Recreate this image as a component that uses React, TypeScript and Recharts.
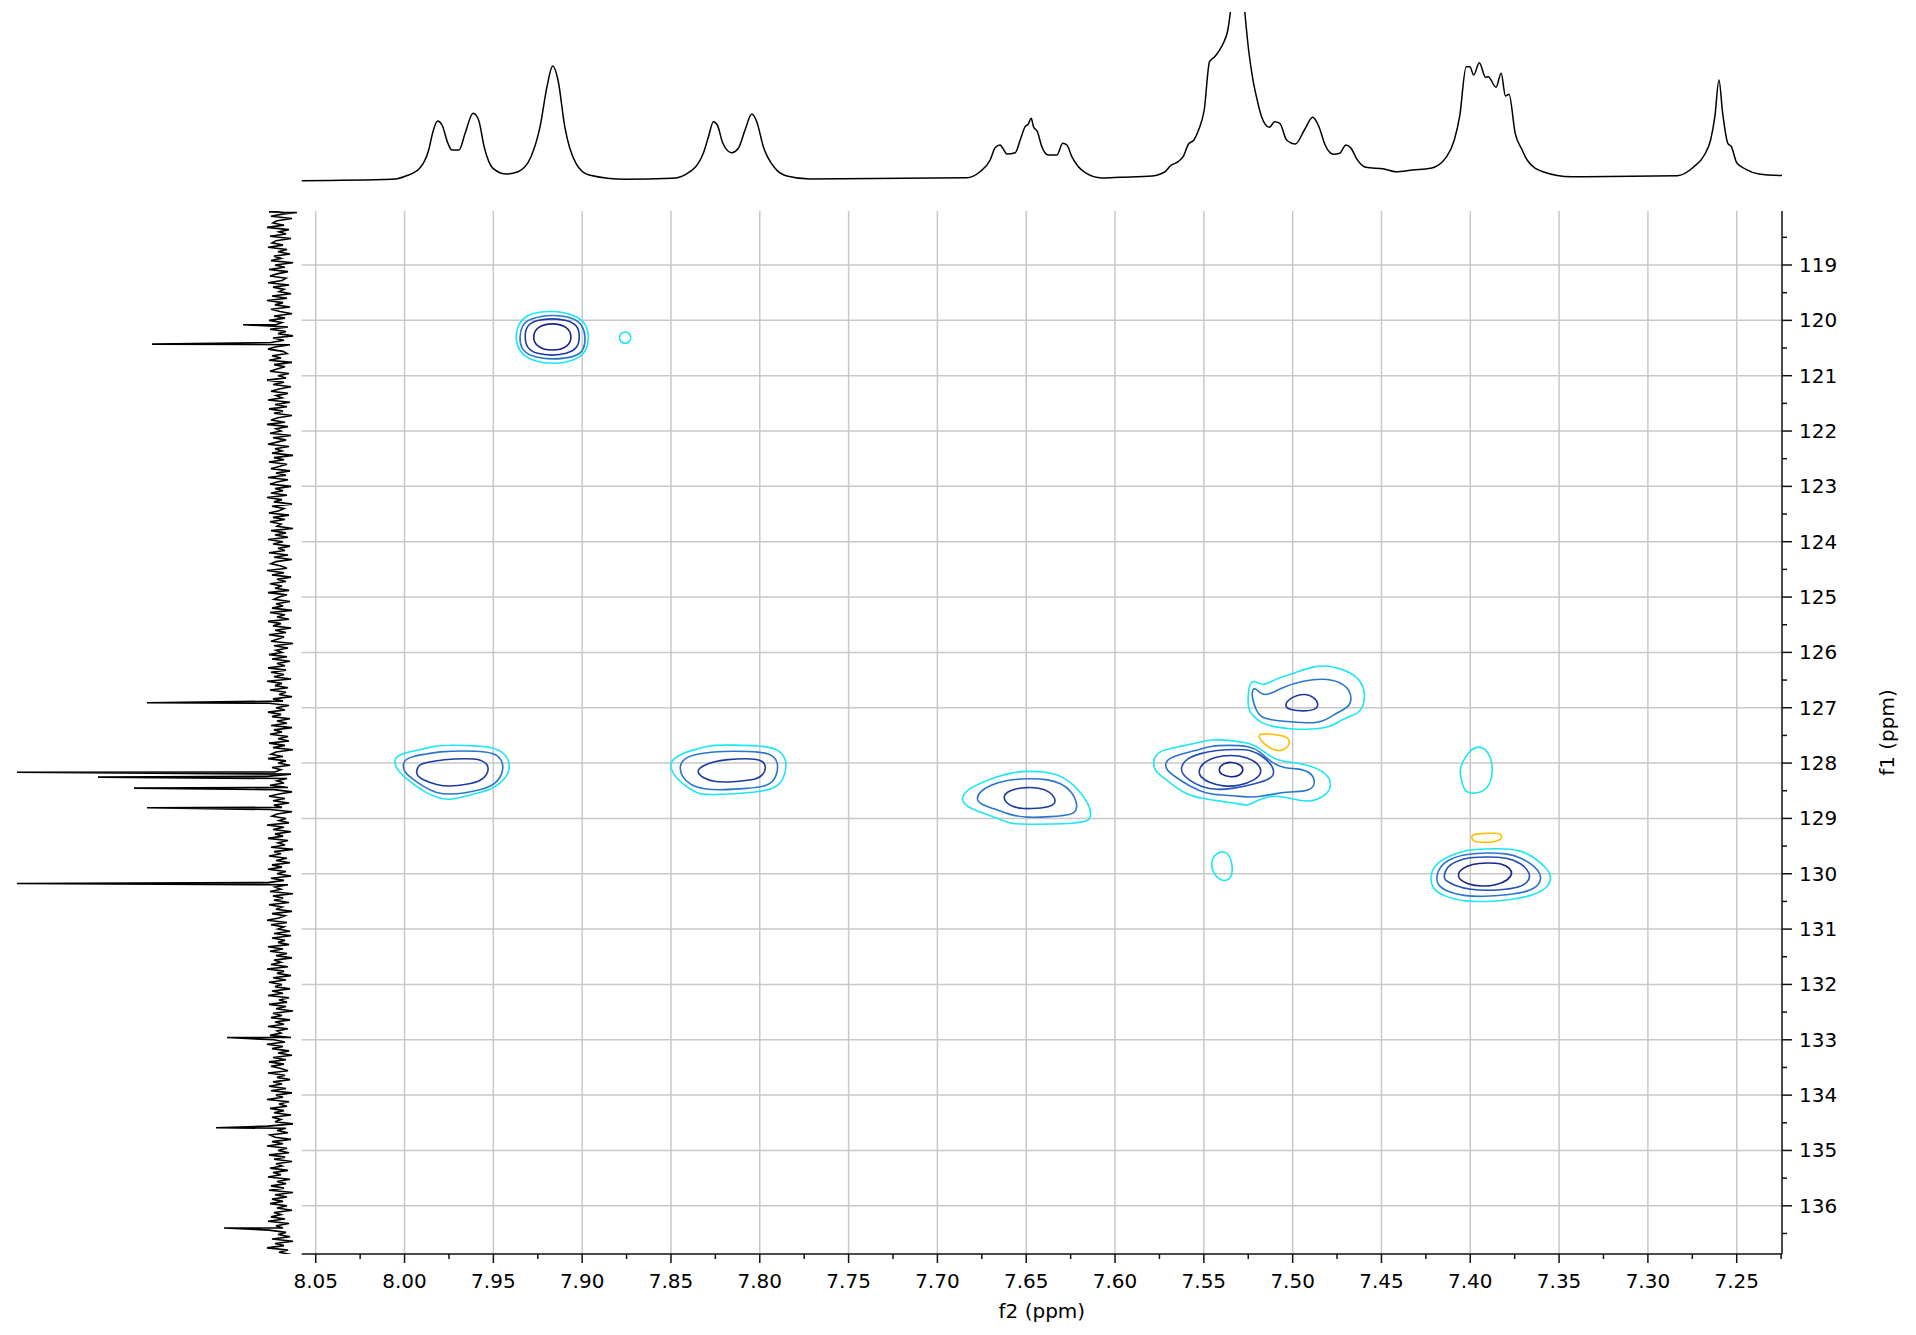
import React from 'react';
import { ComposedChart, LineChart, Line, XAxis, YAxis, CartesianGrid } from 'recharts';

// axis ranges (ppm)
const F2_DOMAIN: [number, number] = [7.2245, 8.0579];
const F1_DOMAIN: [number, number] = [118.024, 136.871];

const F2_MAJOR = [8.05, 8.0, 7.95, 7.9, 7.85, 7.8, 7.75, 7.7, 7.65, 7.6, 7.55, 7.5, 7.45, 7.4, 7.35, 7.3, 7.25];
const F2_MINOR = [8.025, 7.975, 7.925, 7.875, 7.825, 7.775, 7.725, 7.675, 7.625, 7.575, 7.525, 7.475, 7.425, 7.375, 7.325, 7.275, 7.225];
const F1_MAJOR = [119, 120, 121, 122, 123, 124, 125, 126, 127, 128, 129, 130, 131, 132, 133, 134, 135, 136];
const F1_MINOR = [118.5, 119.5, 120.5, 121.5, 122.5, 123.5, 124.5, 125.5, 126.5, 127.5, 128.5, 129.5, 130.5, 131.5, 132.5, 133.5, 134.5, 135.5, 136.5];

// 1H projection on top: [ppm, intensity]
const H1_TRACE = [
  [8.0583, 0.3], [8.007, 1.7], [7.9992, 5], [7.9915, 12.7], [7.9864, 31], [7.984, 49.3], [7.9814, 60], [7.9789, 56],
  [7.9756, 37.7], [7.9733, 31], [7.9693, 31], [7.9659, 47.7], [7.9614, 67.7], [7.9583, 61], [7.9552, 34.3], [7.9502, 12.7],
  [7.9425, 7], [7.9361, 9.3], [7.9288, 24.3], [7.9237, 54.3], [7.9198, 94.3], [7.9166, 115], [7.9136, 101], [7.9098, 54.3],
  [7.9035, 17.7], [7.8961, 6], [7.8758, 1.7], [7.8494, 2.7], [7.8407, 7.7], [7.8318, 27.7], [7.8289, 44.3], [7.8261, 59.3],
  [7.8239, 56], [7.8208, 37.7], [7.8158, 28.3], [7.8121, 32.7], [7.8083, 51], [7.8045, 67], [7.8017, 59.3], [7.798, 34.3],
  [7.7914, 12.7], [7.7848, 5], [7.7717, 2], [7.6835, 3.3], [7.676, 9.3], [7.6703, 21], [7.6675, 33.3], [7.6647, 36],
  [7.6632, 32.7], [7.6609, 27], [7.6562, 28.3], [7.6534, 41], [7.6506, 54.3], [7.6488, 57], [7.6472, 62.7], [7.6459, 54.3],
  [7.6437, 49.3], [7.6412, 34.3], [7.6375, 26], [7.6328, 26], [7.6294, 37.7], [7.6271, 36], [7.6243, 24.3], [7.6168, 8.3],
  [7.6074, 3], [7.5971, 3.7], [7.5791, 5], [7.5718, 9.3], [7.5688, 15.3], [7.5645, 19.3], [7.5617, 24.3], [7.5586, 37],
  [7.5556, 41], [7.5526, 52.7], [7.5498, 71], [7.5468, 119.3], [7.5439, 124.3], [7.5409, 131.7], [7.5389, 138.3], [7.5365, 151],
  [7.5351, 168.3], [7.5313, 260], [7.5269, 168.3], [7.5248, 131], [7.5225, 102.7], [7.5204, 84.3], [7.5175, 64.3], [7.5131, 53.7],
  [7.5101, 59.3], [7.5072, 57.7], [7.5034, 41], [7.4984, 37], [7.4934, 51], [7.4887, 63.7], [7.4852, 54.3], [7.4817, 36],
  [7.477, 26.7], [7.4735, 27.7], [7.47, 36], [7.4671, 32.7], [7.4641, 22.7], [7.4588, 13.7], [7.4485, 12], [7.4418, 9.3],
  [7.4324, 11], [7.4222, 12.7], [7.4133, 24.3], [7.409, 41], [7.406, 64.3], [7.4023, 114.3], [7.4002, 114.3], [7.3981, 106],
  [7.3949, 118.3], [7.3914, 103.7], [7.3899, 104.3], [7.3855, 93.7], [7.3826, 107.7], [7.3802, 85], [7.3782, 86.7], [7.3747, 47.7],
  [7.3708, 31], [7.368, 21], [7.3591, 9.3], [7.343, 4.3], [7.2835, 5.3], [7.2741, 14.3], [7.2682, 26], [7.2647, 41],
  [7.2623, 64.3], [7.26, 101], [7.2579, 67.7], [7.255, 37.7], [7.253, 34.3], [7.25, 18.3], [7.2448, 11.7], [7.2374, 7],
  [7.2233, 5.3],
];

// 13C projection on the left: noise read every 0.04 ppm from 117.96, plus the sharp lines
const C13_NOISE_START = 117.96;
const C13_NOISE_STEP = 0.04;
const C13_NOISE = [
  5, -8, 11, -2, 9, -12, 3, 7, -4, 13, -9, 1, -6, 10, -11, 4, 8, -3, 12, -7, 2, -10, 6, -1, 9, -13, 5, -5, 11, -8,
  3, 10, -6, -2, 12, -9, 7, -4, 1, -11, 8, -7, 13, -3, 5, -10, 9, 0, -12, 6, -5, 11, -2, 4, -8, 10, -6, 2, -13, 7,
  -4, 9, -10, 5, 12, -3, -7, 8, -1, 11, -12, 6, -5, 3, 10, -9, 2, -6, 13, -4, 7, -11, 1, 9, -8, 4, -2, 12, -10, 5,
  -7, 11, -3, 6, -12, 2, 9, -5, 13, -8, 4, -1, 10, -11, 7, -6, 3, 12, -9, 5, -2, 8, -13, 6, -4, 11, -7, 1, 9, -10,
  4, -6, 12, -8, 3, 10, -11, 5, -3, 9, -7, 13, -2, 6, -12, 8, -4, 1, 11, -9, 7, -5, 10, -1, 3, -13, 9, -6, 5, -8,
  12, -3, 7, -10, 2, -5, 11, -8, 6, -12, 4, 9, -1, -7, 13, -4, 8, -11, 3, -6, 10, -2, 5, -9, 12, -7, 1, 6, -10, 4,
  -3, 8, -12, 10, -5, 3, -9, 12, -1, 7, -11, 5, -6, 11, -4, 2, 9, -13, 6, -8, 4, -2, 11, -7, 8, -10, 3, -5, 12, -6,
  9, -4, 6, -11, 13, -2, 5, -8, 10, -6, 1, -12, 7, -3, 11, -9, 4, -5, 12, -1, 8, -10, 3, -7, 9, -12, 6, -2, 10, -8,
  2, -9, 11, -5, 7, -13, 4, 9, -3, 12, -6, 2, -10, 8, -1, 5, -11, 13, -7, 3, -4, 10, -8, 6, -12, 1, 11, -5, 7, -9,
  6, -2, 10, -12, 3, 8, -6, 1, -9, 13, -4, 7, -11, 5, -3, 12, -8, 2, -5, 9, -13, 6, -1, 11, -7, 4, -10, 8, -2, 12,
  -6, 3, -11, 9, -4, 12, -8, 5, -1, 10, -13, 7, -3, 6, -9, 11, -2, 4, -12, 8, -5, 1, 13, -7, 9, -4, 2, -10, 6, -11,
  8, -5, 2, -9, 12, -3, 10, -7, 4, -12, 6, -1, 9, -8, 13, -4, 3, -11, 7, -6, 11, -2, 5, -10, 8, -3, 12, -9, 1, -7,
  11, -6, 4, -13, 7, -2, 9, -10, 5, -4, 12, -8, 3, -1, 10, -11, 6, -5, 13, -3, 8, -9, 2, -12, 7, -6, 11, -4, 9, -1,
  -8, 12, -5, 3, -10, 7, -2, 11, -6, 9, -12, 4, -3, 13, -9, 1, -7, 10, -4, 6, -11, 8, -1, 5, -13, 12, -6, 3, -8, 10,
  5, -11, 8, -3, 13, -7, 2, -9, 11, -5, 6, -12, 4, -2, 10, -8, 7, -1, 12, -10, 3, -6, 9, -4, 11, -13, 5, -7, 8, -3,
  10, -7, 3, -12, 6, -1, 9, -5, 12, -9, 4, -3, 11, -6, 2, -10, 8, -13, 5, -4, 13, -8, 1, -11, 7, -2, 10, -6, 4, -9,
];
const C13_LINES = [
  [118.05, -17], [120.08, 37], [120.43, 128], [126.91, 133], [128.165, 263], [128.254, 182], [128.452, 146],
  [128.807, 133], [130.176, 263], [132.96, 53], [134.59, 64], [136.4, 56],
];

// contour colours
const CYAN = '#1ee6f2';
const BLUE = '#2b76cb';
const MID = '#2352b3';
const DARK = '#1d3b9f';
const NAVY = '#17248b';
const NEG = '#ffbf00';

// cross peaks, [f2, f1] outline points
const P1_A = [[7.8961, 120.295], [7.8974, 120.548], [7.9017, 120.675], [7.9087, 120.765], [7.9168, 120.783], [7.9256, 120.753], [7.9335, 120.638], [7.937, 120.446], [7.9374, 120.235], [7.9357, 120.042], [7.9303, 119.885], [7.9218, 119.837], [7.9115, 119.837], [7.9021, 119.934], [7.8974, 120.084]];
const P1_B = [[7.898, 120.295], [7.8989, 120.536], [7.9031, 120.656], [7.9168, 120.717], [7.9293, 120.656], [7.9346, 120.506], [7.9353, 120.295], [7.934, 120.084], [7.9293, 119.964], [7.9168, 119.891], [7.9049, 119.952], [7.8997, 120.084]];
const P1_C = [[7.9012, 120.295], [7.9025, 120.506], [7.9087, 120.608], [7.9168, 120.638], [7.9256, 120.608], [7.9312, 120.506], [7.9325, 120.295], [7.9312, 120.084], [7.9256, 119.994], [7.9168, 119.964], [7.9087, 119.994], [7.9025, 120.084]];
const P1_D = [[7.9055, 120.3], [7.908, 120.49], [7.9168, 120.56], [7.9256, 120.49], [7.9281, 120.3], [7.9256, 120.11], [7.9168, 120.04], [7.908, 120.11]];
const P1_SMALL = [[7.8723, 120.313], [7.8733, 120.393], [7.8758, 120.426], [7.8783, 120.393], [7.8793, 120.313], [7.8783, 120.233], [7.8758, 120.2], [7.8733, 120.233]];

const P2_A = [[8.0063, 127.975], [8.0044, 127.872], [7.9997, 127.812], [7.9931, 127.776], [7.9838, 127.692], [7.9744, 127.674], [7.9594, 127.686], [7.95, 127.716], [7.9434, 127.824], [7.9406, 128.005], [7.9415, 128.216], [7.9462, 128.366], [7.9519, 128.487], [7.9594, 128.547], [7.9669, 128.607], [7.9744, 128.668], [7.9809, 128.637], [7.9894, 128.517], [7.9969, 128.336], [8.0035, 128.156]];
const P2_B = [[8.001, 128.035], [7.9997, 127.933], [7.995, 127.872], [7.9875, 127.836], [7.9809, 127.794], [7.9669, 127.776], [7.9537, 127.794], [7.9472, 127.854], [7.9444, 128.005], [7.9447, 128.186], [7.949, 128.396], [7.9575, 128.487], [7.9669, 128.547], [7.9744, 128.565], [7.9819, 128.547], [7.9894, 128.427], [7.996, 128.276], [8.0003, 128.156]];
const P2_C = [[7.9935, 128.156], [7.9922, 128.035], [7.9885, 127.993], [7.9781, 127.933], [7.965, 127.915], [7.9566, 127.933], [7.9528, 128.035], [7.9528, 128.186], [7.9575, 128.336], [7.965, 128.384], [7.9744, 128.427], [7.9819, 128.396], [7.9894, 128.306], [7.9928, 128.234]];

const P3_A = [[7.8509, 128.035], [7.8486, 127.915], [7.843, 127.812], [7.8336, 127.734], [7.828, 127.674], [7.8148, 127.674], [7.7998, 127.686], [7.7904, 127.734], [7.7858, 127.884], [7.7848, 128.065], [7.7867, 128.306], [7.7914, 128.457], [7.7998, 128.517], [7.8148, 128.559], [7.8299, 128.577], [7.8355, 128.547], [7.843, 128.396], [7.8486, 128.216]];
const P3_B = [[7.8454, 128.065], [7.843, 127.915], [7.8355, 127.836], [7.8261, 127.794], [7.8148, 127.782], [7.7998, 127.794], [7.7923, 127.854], [7.7895, 128.005], [7.7904, 128.246], [7.7951, 128.427], [7.8073, 128.457], [7.8205, 128.487], [7.8317, 128.475], [7.8392, 128.396], [7.8439, 128.246]];
const P3_C = [[7.8359, 128.156], [7.8327, 128.053], [7.8261, 127.975], [7.8186, 127.933], [7.8073, 127.915], [7.7989, 127.933], [7.7961, 128.065], [7.798, 128.216], [7.8017, 128.294], [7.8111, 128.324], [7.8186, 128.348], [7.8261, 128.336], [7.8317, 128.276]];

const P4_A = [[7.6863, 128.625], [7.6835, 128.487], [7.676, 128.366], [7.6666, 128.246], [7.6572, 128.168], [7.6497, 128.144], [7.6403, 128.156], [7.6319, 128.204], [7.6253, 128.336], [7.6196, 128.517], [7.615, 128.728], [7.6131, 128.939], [7.615, 129.059], [7.6234, 129.089], [7.6365, 129.101], [7.6497, 129.107], [7.6581, 129.101], [7.6638, 129.029], [7.6741, 128.909], [7.6835, 128.788], [7.6857, 128.698]];
const P4_B = [[7.6782, 128.637], [7.676, 128.517], [7.6703, 128.397], [7.6609, 128.306], [7.6497, 128.276], [7.6384, 128.288], [7.63, 128.366], [7.6243, 128.517], [7.6215, 128.698], [7.6215, 128.848], [7.6243, 128.939], [7.6365, 128.969], [7.6497, 128.987], [7.6591, 128.939], [7.6685, 128.818], [7.676, 128.746]];
const P4_C = [[7.6628, 128.607], [7.6609, 128.517], [7.6553, 128.457], [7.6497, 128.439], [7.6431, 128.445], [7.6365, 128.517], [7.6337, 128.637], [7.6337, 128.728], [7.6365, 128.788], [7.6441, 128.818], [7.6516, 128.83], [7.6581, 128.788], [7.6619, 128.698]];

const P5U_A = [[7.5254, 127.041], [7.5249, 126.68], [7.5239, 126.547], [7.5217, 126.511], [7.5183, 126.571], [7.5155, 126.589], [7.5089, 126.469], [7.4995, 126.379], [7.4883, 126.246], [7.4789, 126.234], [7.4676, 126.349], [7.4611, 126.529], [7.4592, 126.74], [7.4601, 126.981], [7.4629, 127.101], [7.4695, 127.174], [7.4742, 127.252], [7.4789, 127.354], [7.4902, 127.391], [7.4995, 127.391], [7.5099, 127.354], [7.5183, 127.27], [7.5221, 127.15]];
const P5U_B = [[7.523, 126.68], [7.5211, 126.638], [7.5183, 126.74], [7.5145, 126.788], [7.5052, 126.62], [7.4939, 126.511], [7.4826, 126.469], [7.4733, 126.529], [7.4676, 126.68], [7.4667, 126.891], [7.4695, 127.011], [7.4751, 127.089], [7.4826, 127.252], [7.4902, 127.282], [7.5014, 127.252], [7.5127, 127.222], [7.5183, 127.162], [7.5206, 127.041], [7.5226, 126.861]];
const P5U_C = [[7.5046, 126.97], [7.5026, 126.853], [7.4977, 126.778], [7.493, 126.745], [7.4879, 126.805], [7.4852, 126.935], [7.4869, 127.038], [7.4939, 127.065], [7.5018, 127.038]];

const P5L_A = [[7.5787, 128.005], [7.5774, 127.854], [7.5727, 127.752], [7.5615, 127.692], [7.5511, 127.613], [7.5455, 127.571], [7.5333, 127.595], [7.523, 127.644], [7.5174, 127.764], [7.5099, 127.945], [7.5014, 127.987], [7.4902, 128.035], [7.4808, 128.186], [7.478, 128.366], [7.4798, 128.547], [7.4864, 128.668], [7.492, 128.698], [7.4995, 128.656], [7.5089, 128.577], [7.5183, 128.637], [7.5254, 128.788], [7.5305, 128.728], [7.539, 128.698], [7.5521, 128.637], [7.5615, 128.547], [7.5709, 128.306], [7.5774, 128.156]];
const P5L_B = [[7.5718, 128.005], [7.5699, 127.915], [7.5615, 127.824], [7.5521, 127.752], [7.5465, 127.692], [7.5371, 127.674], [7.5239, 127.692], [7.5183, 127.794], [7.5127, 127.975], [7.5052, 128.095], [7.4977, 128.095], [7.4902, 128.156], [7.4873, 128.306], [7.4883, 128.457], [7.4939, 128.517], [7.5014, 128.517], [7.5089, 128.547], [7.5183, 128.607], [7.5249, 128.619], [7.5324, 128.595], [7.539, 128.577], [7.5483, 128.559], [7.5577, 128.427], [7.5662, 128.246], [7.5712, 128.125]];
const P5L_C = [[7.563, 128.065], [7.5596, 127.915], [7.5521, 127.824], [7.5427, 127.764], [7.5314, 127.752], [7.523, 127.764], [7.5164, 127.885], [7.5108, 128.065], [7.5104, 128.216], [7.5136, 128.306], [7.5239, 128.397], [7.5333, 128.457], [7.5427, 128.487], [7.5512, 128.439], [7.5587, 128.306], [7.5624, 128.186]];
const P5L_D = [[7.553, 128.156], [7.5512, 128.005], [7.5436, 127.885], [7.5352, 127.854], [7.5258, 127.885], [7.5183, 128.035], [7.5174, 128.186], [7.5211, 128.306], [7.5296, 128.409], [7.539, 128.427], [7.5474, 128.354], [7.5521, 128.246]];
const P5L_E = [[7.5419, 128.118], [7.5395, 128.007], [7.5343, 127.974], [7.5291, 128.029], [7.5275, 128.118], [7.5294, 128.228], [7.5352, 128.26], [7.5405, 128.207]];

const P6_A = [[7.4226, 130.053], [7.4207, 129.872], [7.4151, 129.722], [7.4057, 129.601], [7.3982, 129.559], [7.3832, 129.541], [7.3719, 129.571], [7.3644, 129.692], [7.3569, 129.902], [7.3541, 130.053], [7.3559, 130.234], [7.3635, 130.384], [7.3775, 130.475], [7.3907, 130.505], [7.4019, 130.505], [7.4151, 130.414], [7.4216, 130.264]];
const P6_B = [[7.4192, 130.053], [7.4173, 129.872], [7.4113, 129.722], [7.4019, 129.643], [7.3907, 129.619], [7.3794, 129.631], [7.3719, 129.704], [7.3644, 129.842], [7.3597, 130.023], [7.361, 130.204], [7.3672, 130.324], [7.3794, 130.384], [7.3925, 130.414], [7.4038, 130.402], [7.4132, 130.324], [7.4185, 130.204]];
const P6_C = [[7.4151, 130.053], [7.4132, 129.872], [7.4076, 129.764], [7.4001, 129.704], [7.3907, 129.692], [7.3794, 129.704], [7.371, 129.812], [7.3659, 129.993], [7.3672, 130.161], [7.3738, 130.264], [7.3869, 130.306], [7.4001, 130.294], [7.4094, 130.204], [7.4141, 130.125]];
const P6_D = [[7.4072, 130.005], [7.4047, 129.902], [7.3991, 129.824], [7.3907, 129.8], [7.3822, 129.812], [7.3775, 129.902], [7.3762, 129.993], [7.3785, 130.113], [7.385, 130.204], [7.3935, 130.234], [7.4019, 130.185], [7.4062, 130.101]];

const CYAN_740 = [[7.3963, 127.692], [7.3916, 127.734], [7.3884, 127.885], [7.3873, 128.125], [7.3884, 128.366], [7.3926, 128.517], [7.3972, 128.547], [7.4023, 128.547], [7.4048, 128.366], [7.4061, 128.125], [7.4048, 128.005], [7.401, 127.794]];
const CYAN_754 = [[7.5399, 129.583], [7.5361, 129.631], [7.5343, 129.782], [7.5337, 129.963], [7.5352, 130.101], [7.538, 130.131], [7.5418, 130.101], [7.545, 129.963], [7.5461, 129.812], [7.5442, 129.661]];
const NEG_751 = [[7.5192, 127.463], [7.5117, 127.475], [7.5042, 127.511], [7.5014, 127.583], [7.5024, 127.704], [7.5052, 127.764], [7.5089, 127.782], [7.5127, 127.734], [7.5164, 127.644], [7.5189, 127.553]];
const NEG_739 = [[7.3998, 129.295], [7.3944, 129.272], [7.385, 129.262], [7.3818, 129.295], [7.3829, 129.395], [7.3869, 129.43], [7.3944, 129.436], [7.3988, 129.413]];

const CONTOURS: { pts: number[][]; color: string }[] = [
  { pts: P1_A, color: CYAN }, { pts: P1_B, color: BLUE }, { pts: P1_C, color: DARK }, { pts: P1_D, color: NAVY },
  { pts: P1_SMALL, color: CYAN },
  { pts: P2_A, color: CYAN }, { pts: P2_B, color: BLUE }, { pts: P2_C, color: DARK },
  { pts: P3_A, color: CYAN }, { pts: P3_B, color: BLUE }, { pts: P3_C, color: DARK },
  { pts: P4_A, color: CYAN }, { pts: P4_B, color: BLUE }, { pts: P4_C, color: DARK },
  { pts: P5U_A, color: CYAN }, { pts: P5U_B, color: BLUE }, { pts: P5U_C, color: DARK },
  { pts: P5L_A, color: CYAN }, { pts: P5L_B, color: BLUE }, { pts: P5L_C, color: MID }, { pts: P5L_D, color: DARK }, { pts: P5L_E, color: NAVY },
  { pts: P6_A, color: CYAN }, { pts: P6_B, color: BLUE }, { pts: P6_C, color: MID }, { pts: P6_D, color: NAVY },
  { pts: CYAN_740, color: CYAN }, { pts: CYAN_754, color: CYAN },
  { pts: NEG_751, color: NEG }, { pts: NEG_739, color: NEG },
];

const FONT = '"DejaVu Sans", Verdana, sans-serif';
const AXIS_COLOR = '#111';

const isMajor = (list: number[], v: number) => list.some((m) => Math.abs(m - v) < 1e-6);

const F2Tick = (props: any) => {
  const { x, y, payload } = props;
  const major = isMajor(F2_MAJOR, payload.value);
  return (
    <g>
      <line x1={x} y1={y} x2={x} y2={y + (major ? 9 : 5)} stroke={AXIS_COLOR} strokeWidth={1.5} />
      {major && (
        <text x={x} y={y + 34} textAnchor="middle" fontFamily={FONT} fontSize={20} fill="#000">
          {payload.value.toFixed(2)}
        </text>
      )}
    </g>
  );
};

const F1Tick = (props: any) => {
  const { x, y, payload } = props;
  const major = isMajor(F1_MAJOR, payload.value);
  return (
    <g>
      <line x1={x} y1={y} x2={x + (major ? 10 : 5)} y2={y} stroke={AXIS_COLOR} strokeWidth={1.5} />
      {major && (
        <text x={x + 17} y={y + 7} textAnchor="start" fontFamily={FONT} fontSize={20} fill="#000">
          {payload.value}
        </text>
      )}
    </g>
  );
};

const F2Title = (props: any) => {
  const vb = props.viewBox || { x: 301.7, y: 1263, width: 1480.3, height: 70 };
  return (
    <text x={vb.x + vb.width / 2} y={vb.y + 64} textAnchor="middle" fontFamily={FONT} fontSize={20} fill="#000">
      f2 (ppm)
    </text>
  );
};

const F1Title = (props: any) => {
  const vb = props.viewBox || { x: 1792, y: 211, width: 120, height: 1043 };
  const cx = vb.x + 105;
  const cy = vb.y + vb.height / 2;
  return (
    <text x={cx} y={cy} transform={`rotate(-90 ${cx} ${cy})`} textAnchor="middle" dominantBaseline="central" fontFamily={FONT} fontSize={20} fill="#000">
      f1 (ppm)
    </text>
  );
};

const h1Data = H1_TRACE.map(([ppm, i]) => ({ ppm, i }));

const c13Data = [
  ...C13_NOISE.map((i, k) => ({ ppm: C13_NOISE_START + k * C13_NOISE_STEP, i })),
  ...C13_LINES.map(([ppm, i]) => ({ ppm, i })),
].sort((a, b) => a.ppm - b.ppm);

const F2_TICKS = [...F2_MAJOR, ...F2_MINOR].sort((a, b) => b - a);
const F1_TICKS = [...F1_MAJOR, ...F1_MINOR].sort((a, b) => a - b);

const layer: React.CSSProperties = { position: 'absolute', left: 0, top: 0 };

const App: React.FC = () => {
  return (
    <div style={{ position: 'absolute', left: 0, top: 0, width: 1916, height: 1335, background: '#fff', overflow: 'hidden' }}>
      <div style={layer}>
        <ComposedChart width={1916} height={1335} margin={{ top: 211, right: 4, bottom: 2, left: 301.7 }}>
          <XAxis xAxisId="pad" type="number" domain={F2_DOMAIN} allowDataOverflow height={9} axisLine={false} tick={false} tickLine={false} />
          <XAxis
            xAxisId="f2"
            type="number"
            dataKey="f2"
            domain={F2_DOMAIN}
            reversed
            allowDataOverflow
            ticks={F2_TICKS}
            interval={0}
            tick={F2Tick}
            tickLine={false}
            tickSize={0}
            tickMargin={0}
            height={70}
            axisLine={{ stroke: AXIS_COLOR, strokeWidth: 1.5 }}
            label={{ content: F2Title }}
          />
          <YAxis yAxisId="padY" orientation="right" type="number" domain={F1_DOMAIN} allowDataOverflow width={10} axisLine={false} tick={false} tickLine={false} />
          <YAxis
            yAxisId="f1"
            orientation="right"
            type="number"
            domain={F1_DOMAIN}
            reversed
            allowDataOverflow
            ticks={F1_TICKS}
            interval={0}
            tick={F1Tick}
            tickLine={false}
            tickSize={0}
            tickMargin={0}
            width={120}
            axisLine={{ stroke: AXIS_COLOR, strokeWidth: 1.5 }}
            label={{ content: F1Title }}
          />
          <CartesianGrid
            xAxisId="f2"
            yAxisId="f1"
            verticalValues={F2_MAJOR}
            horizontalValues={F1_MAJOR}
            stroke="#c8c8c8"
            strokeWidth={1.5}
          />
          {CONTOURS.map((c, k) => (
            <Line
              key={k}
              xAxisId="f2"
              yAxisId="f1"
              data={c.pts.map(([f2, f1]) => ({ f2, f1 }))}
              dataKey="f1"
              type="basisClosed"
              stroke={c.color}
              strokeWidth={1.6}
              dot={false}
              activeDot={false}
              isAnimationActive={false}
            />
          ))}
        </ComposedChart>
      </div>
      <div style={layer}>
        <LineChart width={1916} height={200} data={h1Data} margin={{ top: 12, right: 134, bottom: 15, left: 301.7 }}>
          <XAxis dataKey="ppm" type="number" domain={F2_DOMAIN} reversed allowDataOverflow hide />
          <YAxis type="number" domain={[-4, 169]} allowDataOverflow hide />
          <Line dataKey="i" type="monotone" stroke="#000" strokeWidth={1.5} dot={false} activeDot={false} isAnimationActive={false} />
        </LineChart>
      </div>
      <div style={layer}>
        <LineChart width={300} height={1335} data={c13Data} margin={{ top: 211, right: 0, bottom: 81, left: 0 }}>
          <XAxis dataKey="i" type="number" domain={[-20, 280]} reversed allowDataOverflow hide />
          <YAxis type="number" domain={F1_DOMAIN} reversed allowDataOverflow hide />
          <Line dataKey="ppm" type="linear" stroke="#000" strokeWidth={1.6} dot={false} activeDot={false} isAnimationActive={false} />
        </LineChart>
      </div>
    </div>
  );
};

export default App;
